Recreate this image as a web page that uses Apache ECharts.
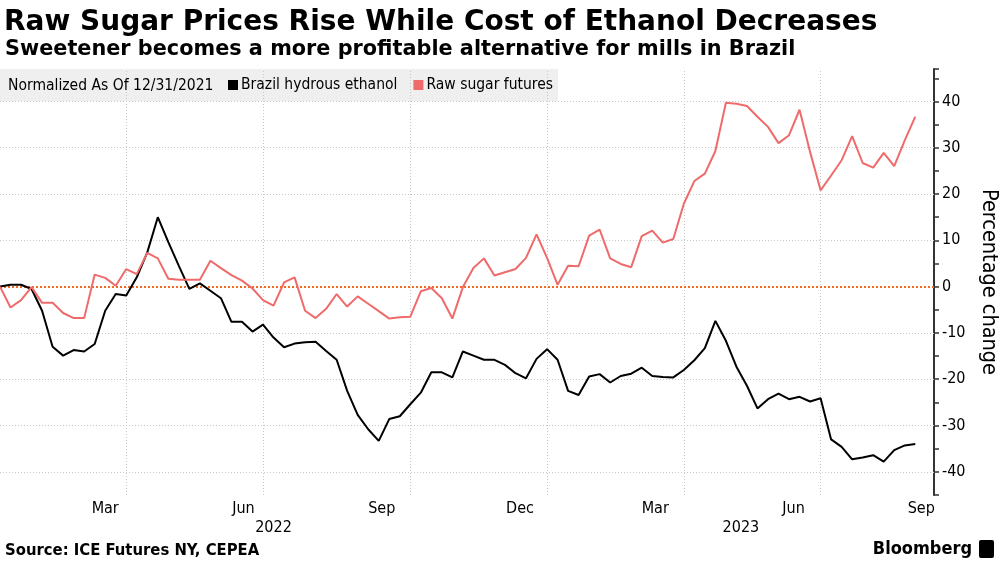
<!DOCTYPE html>
<html><head><meta charset="utf-8">
<script src="https://cdn.jsdelivr.net/npm/echarts@6/dist/echarts.min.js"></script>
<style>html,body{margin:0;padding:0;background:#fff}#c{width:1000px;height:562px}</style>
</head><body><div id="c"></div>
<script>
// ---- data (weekly, normalized as of 12/31/2021, % change) ----
const startDate = '2021-12-31';
const ethanol = [0, 0.4, 0.4, -0.5, -5.2, -13.0, -14.9, -13.7, -14.0, -12.4,
  -5.2, -1.6, -1.9, 2.0, 7.4, 15.0, 9.6, 4.5, -0.5, 0.7,
  -0.9, -2.5, -7.6, -7.6, -9.7, -8.2, -11.0, -13.1, -12.3, -12.0,
  -11.9, -13.9, -15.8, -22.5, -27.7, -30.8, -33.3, -28.6, -28.0, -25.4,
  -22.9, -18.5, -18.5, -19.6, -14.0, -14.9, -15.8, -15.8, -16.9, -18.7,
  -19.8, -15.6, -13.5, -15.8, -22.5, -23.4, -19.4, -18.9, -20.7, -19.3,
  -18.8, -17.5, -19.3, -19.5, -19.6, -18.0, -15.9, -13.3, -7.4, -11.7,
  -17.3, -21.4, -26.3, -24.3, -23.1, -24.3, -23.8, -24.8, -24.1, -33.0,
  -34.6, -37.3, -36.9, -36.4, -37.8, -35.3, -34.3, -34.0];
const sugar = [0, -4.5, -2.9, -0.1, -3.5, -3.5, -5.7, -6.8, -6.8, 2.6,
  1.9, 0.2, 3.8, 2.7, 7.3, 6.1, 1.7, 1.5, 1.5, 1.5,
  5.6, 4.0, 2.5, 1.3, -0.4, -2.9, -4.1, 0.9, 2.0, -5.2,
  -6.8, -4.8, -1.6, -4.3, -2.1, -3.7, -5.3, -6.9, -6.6, -6.5,
  -1.0, -0.3, -2.5, -6.9, -0.1, 4.0, 6.1, 2.4, 3.1, 3.8,
  6.2, 11.3, 6.2, 0.4, 4.5, 4.4, 11.0, 12.3, 6.1, 4.9,
  4.2, 10.9, 12.1, 9.5, 10.3, 17.9, 22.8, 24.4, 29.3, 39.7,
  39.5, 39.0, 36.7, 34.5, 31.0, 32.7, 38.2, 29.1, 20.8, 24.0,
  27.3, 32.5, 26.7, 25.7, 28.9, 26.0, 31.6, 36.7];
const monthLabels = ['Mar', 'Jun', 'Sep', 'Dec', 'Mar', 'Jun', 'Sep'];
const monthLabelDates = ['2022-03-11', '2022-06-11', '2022-09-11', '2022-12-12', '2023-03-12', '2023-06-12', '2023-09-05'];
const yearLabels = ['2022', '2023'];
const yearLabelDates = ['2022-07-01', '2023-05-08'];
const gridDates = ['2022-03-25', '2022-06-24', '2022-09-30', '2022-12-30', '2023-03-31', '2023-06-30'];
const yGridValues = [-40, -30, -20, -10, 10, 20, 30, 40];

// ---- helpers ----
function ts(s) { const p = s.split('-').map(Number); return new Date(p[0], p[1] - 1, p[2]).getTime(); }
const WEEK = 7 * 86400000;
const t0 = ts(startDate);
const dates = ethanol.map((_, i) => t0 + i * WEEK);
const xMax = t0 + 88.78 * WEEK;
function lookup(v, dArr, lArr) {
  let best = -1, bd = Infinity;
  dArr.forEach((d, i) => { const dd = Math.abs(ts(d) - v); if (dd < bd) { bd = dd; best = i; } });
  return bd < 86400000 ? lArr[best] : '';
}
const FONT = '"DejaVu Sans Condensed", "DejaVu Sans", sans-serif';
const RED = '#ef6b6b';

const chart = echarts.init(document.getElementById('c'));
chart.setOption({
  animation: false,
  backgroundColor: '#fff',
  textStyle: { fontFamily: FONT },
  title: [
    { text: 'Raw Sugar Prices Rise While Cost of Ethanol Decreases', left: 4, top: 9, padding: 0,
      textStyle: { fontFamily: '"DejaVu Sans", sans-serif', fontWeight: 'bold', fontSize: 28, color: '#000' } },
    { text: 'Sweetener becomes a more profitable alternative for mills in Brazil', left: 5, top: 39, padding: 0,
      textStyle: { fontFamily: '"DejaVu Sans", sans-serif', fontWeight: 'bold', fontSize: 20.8, color: '#000' } },
    { text: 'Source: ICE Futures NY, CEPEA', left: 5, top: 542, padding: 0,
      textStyle: { fontFamily: FONT, fontWeight: 'bold', fontSize: 16.5, color: '#000' } },
    { text: 'Bloomberg', right: 28, top: 540, padding: 0,
      textStyle: { fontFamily: FONT, fontWeight: 'bold', fontSize: 18, color: '#000' } }
  ],
  graphic: [
    { type: 'rect', z: -10, shape: { x: 0, y: 69, width: 558, height: 32 }, style: { fill: '#efefef' } },
    { type: 'text', z: 10, style: { x: 8, y: 86, text: 'Normalized As Of 12/31/2021', font: '15.5px ' + FONT, fill: '#000', verticalAlign: 'middle' } },
    { type: 'rect', z: 10, shape: { x: 979, y: 540, width: 15, height: 18, r: 2 }, style: { fill: '#000' } }
  ],
  legend: {
    left: 228, top: 77, padding: 0, icon: 'rect', itemWidth: 10, itemHeight: 10, itemGap: 16,
    textStyle: { fontSize: 15.5, fontFamily: FONT, color: '#000', padding: [0, 0, 0, -2] },
    data: ['Brazil hydrous ethanol', 'Raw sugar futures']
  },
  grid: { left: 0, right: 66, top: 69, bottom: 67, containLabel: false, outerBoundsMode: 'none' },
  xAxis: [
    { type: 'value', min: t0, max: xMax,
      axisLine: { show: false }, axisTick: { show: false }, splitLine: { show: false },
      axisLabel: { customValues: monthLabelDates.map(ts), formatter: v => lookup(v, monthLabelDates, monthLabels),
        fontSize: 16, color: '#000', margin: 6, fontFamily: FONT, hideOverlap: false } },
    { type: 'value', min: t0, max: xMax, position: 'bottom', offset: 20,
      axisLine: { show: false }, axisTick: { show: false }, splitLine: { show: false },
      axisLabel: { customValues: yearLabelDates.map(ts), formatter: v => lookup(v, yearLabelDates, yearLabels),
        fontSize: 16, color: '#000', margin: 5, fontFamily: FONT, hideOverlap: false } }
  ],
  yAxis: {
    type: 'value', position: 'right', min: -45, max: 47, interval: 5,
    name: 'Percentage change', nameLocation: 'middle', nameRotate: -90, nameGap: 44,
    nameTextStyle: { fontSize: 21.5, color: '#000', fontFamily: FONT },
    axisLine: { show: true, lineStyle: { color: '#333', width: 2 } },
    axisTick: { show: true, length: 5, lineStyle: { color: '#333', width: 1.5 } },
    axisLabel: { formatter: v => (v % 10 === 0 ? String(v) : ''), fontSize: 16, color: '#000', margin: 8, fontFamily: FONT },
    splitLine: { show: false }
  },
  series: [
    { name: 'Brazil hydrous ethanol', type: 'line', z: 3, symbol: 'none', color: '#000',
      lineStyle: { width: 2, color: '#000' },
      data: dates.map((d, i) => [d, ethanol[i]]),
      markLine: { silent: true, symbol: 'none', z: 1, label: { show: false },
        data: [
          ...gridDates.map(d => ({ xAxis: ts(d), lineStyle: { color: '#c8c8c8', type: [1, 2], width: 1 } })),
          ...yGridValues.map(v => ({ yAxis: v, lineStyle: { color: '#c8c8c8', type: [1, 2], width: 1 } })),
          { yAxis: 0, lineStyle: { color: '#f26b21', type: [2, 2], width: 2 } }
        ] } },
    { name: 'Raw sugar futures', type: 'line', z: 3, symbol: 'none', color: RED,
      lineStyle: { width: 2, color: RED },
      data: dates.map((d, i) => [d, sugar[i]]) }
  ]
});
</script></body></html>
